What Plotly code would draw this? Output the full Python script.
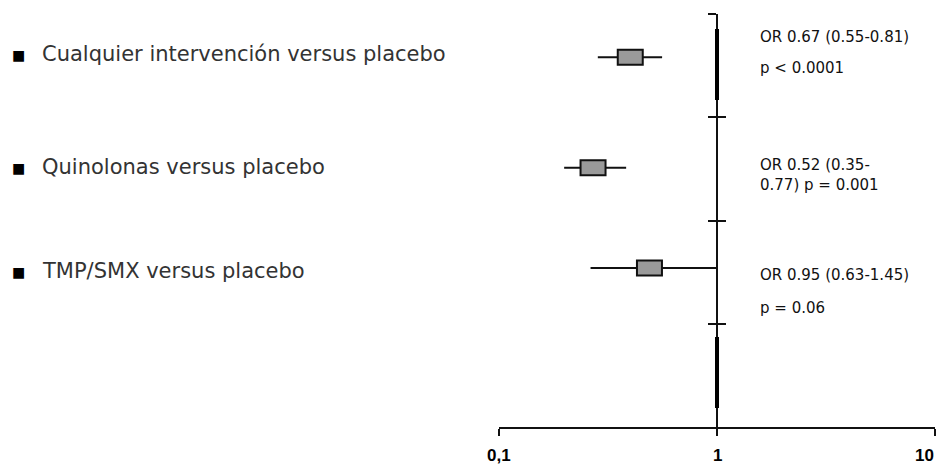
import math
import plotly.graph_objects as go

# ---- data ----
categories = ["Cualquier intervención versus placebo",
              "Quinolonas versus placebo",
              "TMP/SMX versus placebo"]
or_est = [0.40, 0.27, 0.49]
ci_low = [0.284, 0.199, 0.263]
ci_high = [0.56, 0.383, 1.0]
stat_line1 = ["OR 0.67 (0.55-0.81)", "OR 0.52 (0.35-", "OR 0.95 (0.63-1.45)"]
stat_line2 = ["p < 0.0001", "0.77) p = 0.001", "p = 0.06"]
tick_vals = [0.1, 1, 10]
tick_text = ["0,1", "1", "10"]

# ---- layout ----
OFF = 8                       # page body margin
SW, SH = 946, 467             # screen size
W, H = SW - OFF, SH - OFF     # figure size
PL, PR, PT, PB = 499, 935, 14, 427   # plot area in screen pixels
ML, MR, MT, MB = PL - OFF, SW - PR, PT - OFF, SH - PB
PW, PH = W - ML - MR, H - MT - MB
ROW_PX = (PB - PT) / 4.0
row_pos = [-0.08, 0.99, 1.96]  # vertical placement of each row (axis units)
tick_anchor = [("center", 0), ("center", 0), ("right", 1)]


def px_x(px):
    return (px - OFF - ML) / PW


def px_y(py):
    return 1 - (py - OFF - MT) / PH


def yval(py):
    return (py - PT) / ROW_PX - 0.5


rows = list(range(len(categories)))

fig = go.Figure()
fig.add_trace(go.Scatter(
    x=or_est, y=row_pos, mode="markers",
    marker=dict(size=1, opacity=0),
    error_x=dict(type="data", symmetric=False,
                 array=[h - e for h, e in zip(ci_high, or_est)],
                 arrayminus=[e - l for e, l in zip(or_est, ci_low)],
                 width=0, thickness=2, color="#111"),
    hoverinfo="skip", showlegend=False,
))
fig.add_trace(go.Scatter(x=[1], y=[0], xaxis="x2", yaxis="y2", mode="markers",
                         marker=dict(opacity=0), showlegend=False, hoverinfo="skip"))

shapes = []
k = 10 ** (12.5 / 218)
hh = 7.5 / ROW_PX
for e, yp in zip(or_est, row_pos):
    shapes.append(dict(type="rect", xref="x", yref="y", x0=e / k, x1=e * k,
                       y0=yp - hh, y1=yp + hh, fillcolor="#9a9a9a",
                       line=dict(color="#111", width=2), layer="above"))
for a, b in [(29, 100), (337, 408)]:
    shapes.append(dict(type="line", xref="x", yref="y", x0=1, x1=1,
                       y0=yval(a), y1=yval(b), line=dict(color="#000", width=4)))

annotations = []
label_y = [54, 167, 271]
for i, c in enumerate(categories):
    annotations.append(dict(text="■", x=px_x(10), y=px_y(label_y[i] + 1), xref="paper", yref="paper",
                            xanchor="left", yanchor="middle", showarrow=False,
                            font=dict(family="DejaVu Sans", size=14, color="#000")))
    annotations.append(dict(text=c, x=px_x(40), y=px_y(label_y[i]), xref="paper", yref="paper",
                            xanchor="left", yanchor="middle", showarrow=False,
                            font=dict(family="DejaVu Sans", size=21, color="#333")))
stat_y = [(37, 68), (165, 185), (275, 308)]
for i in rows:
    for txt, py in zip((stat_line1[i], stat_line2[i]), stat_y[i]):
        annotations.append(dict(text=txt, x=px_x(758), y=px_y(py), xref="paper", yref="paper",
                                xanchor="left", yanchor="middle", showarrow=False,
                                font=dict(family="DejaVu Sans", size=15, color="#111")))
# x tick labels (as annotations so the last one is not dropped at the edge)
for v, t, (anc, sh) in zip(tick_vals, tick_text, tick_anchor):
    annotations.append(dict(text=f"<b>{t}</b>", x=math.log10(v), xref="x", y=px_y(455), yref="paper",
                            xanchor=anc, xshift=sh, yanchor="middle", showarrow=False,
                            font=dict(family="Liberation Sans", size=17, color="#000")))

y_range = [yval(PB), yval(PT)]
ytick_vals = [r - 0.5 for r in rows] + [rows[-1] + 0.5]
xr = [-1, 1]

fig.update_layout(
    width=W, height=H, margin=dict(l=ML, r=MR, t=MT, b=MB, autoexpand=False),
    plot_bgcolor="white", paper_bgcolor="white",
    shapes=shapes, annotations=annotations, showlegend=False,
    xaxis=dict(type="log", range=xr, showgrid=False, zeroline=False, automargin=False,
               showline=True, linecolor="#111", linewidth=2,
               ticks="outside", ticklen=7, tickwidth=2, tickcolor="#111",
               tickvals=tick_vals, showticklabels=False),
    xaxis2=dict(type="log", range=xr, overlaying="x", anchor="y", side="bottom",
                showgrid=False, zeroline=False, showline=False, automargin=False,
                ticks="inside", ticklen=7, tickwidth=2, tickcolor="#111",
                tickvals=tick_vals, showticklabels=False),
    yaxis=dict(range=y_range, anchor="free", position=0.5, showgrid=False, zeroline=False,
               showline=True, linecolor="#111", linewidth=2, automargin=False,
               ticks="outside", ticklen=8, tickwidth=2, tickcolor="#111",
               tickvals=ytick_vals, showticklabels=False),
    yaxis2=dict(range=y_range, overlaying="y", anchor="free", position=0.5, side="left",
                showgrid=False, zeroline=False, showline=False, automargin=False,
                ticks="inside", ticklen=8, tickwidth=2, tickcolor="#111",
                tickvals=ytick_vals, showticklabels=False),
)

fig.write_html("out.html")
